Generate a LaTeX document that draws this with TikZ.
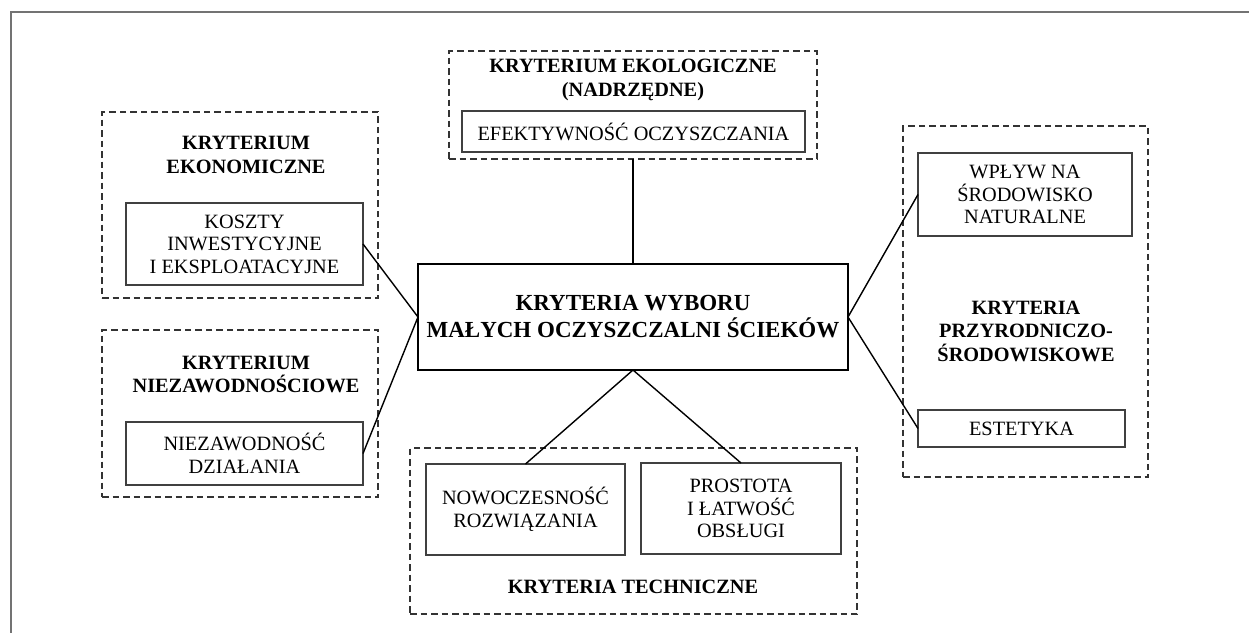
\documentclass[tikz,border=0pt]{standalone}
\usepackage{fontspec}
\setmainfont{Liberation Serif}
\begin{document}
\begin{tikzpicture}[x=1pt,y=-1pt,
  every node/.style={inner sep=0pt, outer sep=0pt, align=center,
    font=\fontsize{20.3}{22.6}\selectfont},
  grp/.style={draw=black!80, line width=1.4pt, dash pattern=on 6.5pt off 4pt},
  item/.style={draw=black!75, line width=1.4pt},
  ttl/.style={font=\fontsize{20.3}{23.5}\selectfont\bfseries},
  hub/.style={draw=black, line width=2.6pt, font=\fontsize{23}{27}\selectfont\bfseries},
  link/.style={draw=black, line width=1.4pt}]
\useasboundingbox (0,0) rectangle (1249,633);
\fill[white] (0,0) rectangle (1249,633);
% frame
\draw[black!55, line width=2pt] (1249,11.5) -- (11,11.5) -- (11,633);

% economic
\node[grp, minimum width=276pt, minimum height=186pt] (ekonG) at (240,205) {};
\node[ttl] (ekonT) at (246,155) {KRYTERIUM\\EKONOMICZNE};
\node[item, minimum width=237pt, minimum height=82pt] (kosz) at (244.5,244) {KOSZTY\\INWESTYCYJNE\\I EKSPLOATACYJNE};

% reliability
\node[grp, minimum width=276pt, minimum height=167pt] (niezG) at (240,413.5) {};
\node[ttl] (niezT) at (246,374.5) {KRYTERIUM\\NIEZAWODNOŚCIOWE};
\node[item, minimum width=237pt, minimum height=63pt] (niez) at (244.5,453.5) {NIEZAWODNOŚĆ\\DZIAŁANIA};

% ecological
\node[grp, minimum width=368pt, minimum height=108pt] (ekolG) at (633,105) {};
\node[ttl] (ekolT) at (633,80) {KRYTERIUM EKOLOGICZNE\\(NADRZĘDNE)};
\node[item, minimum width=343pt, minimum height=41pt] (efek) at (633.5,131.5) {EFEKTYWNOŚĆ OCZYSZCZANIA};

% main
\node[hub, minimum width=430pt, minimum height=106pt] (main) at (633,317) {KRYTERIA WYBORU\\MAŁYCH OCZYSZCZALNI ŚCIEKÓW};

% technical
\node[grp, minimum width=447pt, minimum height=166pt] (techG) at (633.5,531) {};
\node[item, minimum width=199pt, minimum height=91pt] (nowo) at (525.5,509.5) {NOWOCZESNOŚĆ\\ROZWIĄZANIA};
\node[item, minimum width=200pt, minimum height=91pt] (pros) at (741,508.5) {PROSTOTA\\I ŁATWOŚĆ\\OBSŁUGI};
\node[ttl] (techT) at (633,587) {KRYTERIA TECHNICZNE};

% nature
\node[grp, minimum width=245pt, minimum height=351pt] (przG) at (1025.5,301.5) {};
\node[item, minimum width=214pt, minimum height=83pt] (wplyw) at (1025,194.5) {WPŁYW NA\\ŚRODOWISKO\\NATURALNE};
\node[ttl] (przT) at (1026,331) {KRYTERIA\\PRZYRODNICZO-\\ŚRODOWISKOWE};
\node[item, minimum width=207pt, minimum height=37pt] (estet) at (1021.5,428.5) {ESTETYKA};

% connectors
\draw[link] (ekolG.south) -- (main.north);
\draw[link] (main.west) -- (kosz.east);
\draw[link] (main.west) -- (niez.east);
\draw[link] (main.east) -- (wplyw.west);
\draw[link] (main.east) -- (estet.west);
\draw[link] (main.south) -- (nowo.north);
\draw[link] (main.south) -- (pros.north);
\end{tikzpicture}
\end{document}
